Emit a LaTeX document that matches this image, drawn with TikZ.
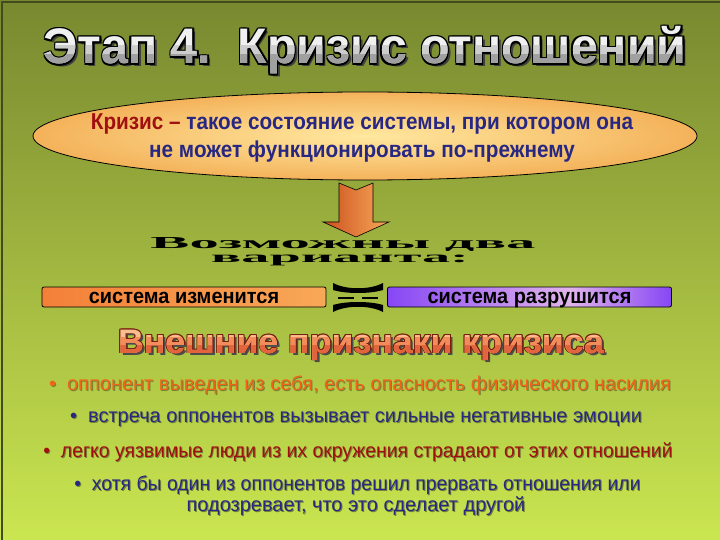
\documentclass[tikz,border=0pt]{standalone}
\usepackage{fontspec}
\setmainfont{Liberation Sans}
\newfontfamily\wordart{Liberation Serif}
\usetikzlibrary{shapes.geometric,shadings}
\definecolor{bgtop}{RGB}{120,136,48}
\definecolor{bgbot}{RGB}{202,230,80}
\definecolor{dkred}{RGB}{160,16,16}
\definecolor{dkblue}{RGB}{40,40,130}
\definecolor{orangetxt}{RGB}{240,100,24}
\definecolor{shadowc}{RGB}{115,130,55}
\definecolor{titlefillA}{RGB}{240,240,240}
\definecolor{titlefillB}{RGB}{205,205,205}
\definecolor{titlefillC}{RGB}{160,160,160}
\definecolor{headfillA}{RGB}{250,190,140}
\definecolor{headfillB}{RGB}{242,140,90}
\definecolor{headfillC}{RGB}{226,100,60}
\definecolor{headline}{RGB}{120,30,15}
\definecolor{ellin}{RGB}{255,232,160}
\definecolor{ellout}{RGB}{244,178,90}
\definecolor{arrL}{RGB}{205,80,30}
\definecolor{arrR}{RGB}{246,170,90}
\definecolor{orL}{RGB}{244,128,56}
\definecolor{orR}{RGB}{248,168,88}
\definecolor{purA}{RGB}{135,70,245}
\definecolor{purB}{RGB}{225,180,235}
\pgfdeclarehorizontalshading{purpshade}{100bp}{color(0bp)=(purA); color(25bp)=(purA); color(57bp)=(purB); color(75bp)=(purA); color(100bp)=(purA)}
% outlined text: #1 offset, #2 shadow colour, #3 shadow offset, #4 outline colour, #5 fill colour, #6 text
\newcommand\oltext[6]{\leavevmode
\rlap{\kern#3\raisebox{-#3}{\color{#2}#6}}%
\rlap{\kern#1\color{#4}#6}%
\rlap{\kern-#1\color{#4}#6}%
\rlap{\raisebox{#1}{\color{#4}#6}}%
\rlap{\raisebox{-#1}{\color{#4}#6}}%
\rlap{\kern#1\raisebox{#1}{\color{#4}#6}}%
\rlap{\kern-#1\raisebox{#1}{\color{#4}#6}}%
\rlap{\kern#1\raisebox{-#1}{\color{#4}#6}}%
\rlap{\kern-#1\raisebox{-#1}{\color{#4}#6}}%
{\color{#5}#6}}
% shadowed text: #1 colour, #2 text
\newcommand\shtext[2]{\leavevmode\rlap{\kern1pt\raisebox{-1pt}{\color{shadowc}#2}}{\color{#1}#2}}
\newcommand\titlestr{Этап 4.\ \ Кризис отношений}
\newcommand\headstr{Внешние признаки кризиса}
\begin{document}
\begin{tikzpicture}[x=1pt,y=-1pt,
  bullettext/.style={inner sep=0pt, anchor=center, font=\fontsize{20}{20}\selectfont},
  titlefont/.style={inner sep=0pt, anchor=base, font=\fontsize{50}{50}\selectfont\bfseries},
  headfont/.style={inner sep=0pt, anchor=base, font=\fontsize{34}{34}\selectfont\bfseries},
  choicebox/.style={draw=black, line width=0.8pt, rounded corners=2pt, minimum width=284pt, minimum height=20pt, inner sep=0pt, font=\fontsize{21}{21}\selectfont\bfseries}]
\useasboundingbox (0,0) rectangle (720,540);
\shade[top color=bgtop, bottom color=bgbot] (0,0) rectangle (720,540);
\draw[bgtop!55!black, line width=1.5pt] (2,540) -- (2,2) -- (720,2);

% title with silver gradient letters
\node[titlefont] (title) at (365,64) {\scalebox{0.965}[1]{\oltext{1.4pt}{black!75}{3pt}{black}{titlefillA}{\titlestr}}};
\begin{scope}
\clip (0,46) rectangle (720,55);
\node[titlefont] (titleB) at (365,64) {\scalebox{0.965}[1]{\color{titlefillB}\titlestr}};
\end{scope}
\begin{scope}
\clip (0,55) rectangle (720,90);
\node[titlefont] (titleC) at (365,64) {\scalebox{0.965}[1]{\color{titlefillC}\titlestr}};
\end{scope}

% definition ellipse
\node[ellipse, draw=black, line width=0.8pt, inner color=ellin, outer color=ellout, minimum width=664pt, minimum height=88pt, inner sep=0pt] (def) at (365,136) {};
\node[inner sep=0pt, align=center, font=\fontsize{23}{28}\selectfont\bfseries] (deftext) at (362,138) {\scalebox{0.9}[1]{\color{dkred}Кризис –\ \color{dkblue}такое состояние системы, при котором она}\\ \scalebox{0.9}[1]{\color{dkblue}не может функционировать по-прежнему}};

% arrow
\shade[left color=arrL, right color=arrR, draw=black, line width=0.6pt]
  (339,183) -- (356,190) -- (373,183) -- (373,222) -- (389,222) -- (356,237) -- (323,222) -- (339,222) -- cycle;

% word art
\node[inner sep=0pt, anchor=base] (wa1) at (343,248) {\wordart\bfseries\resizebox{385pt}{11pt}{Возможны два}};
\node[inner sep=0pt, anchor=base] (wa2) at (340,262.5) {\wordart\bfseries\resizebox{258pt}{7.5pt}{варианта:}};

% choices
\node[choicebox, left color=orL, right color=orR] (ch1) at (184,297) {\raisebox{-6pt}[0pt][0pt]{\scalebox{0.95}[1]{система изменится}}};
\node[choicebox, shading=purpshade] (ch2) at (529.5,297) {\raisebox{-6pt}[0pt][0pt]{\scalebox{0.95}[1]{система разрушится}}};

% sign between the choices
\fill[black] (333,283) .. controls (346,290) and (370,290) .. (383,283) -- (383,290) .. controls (370,294) and (346,294) .. (333,290) -- cycle;
\fill[black] (333,312) .. controls (346,305) and (370,305) .. (383,312) -- (383,305) .. controls (370,301) and (346,301) .. (333,305) -- cycle;
\draw[black, line width=2pt] (338,297.5) -- (354,297.5) (362,297.5) -- (378,297.5);

% heading with gradient letters
\node[headfont] (head) at (361,353) {\scalebox{1.05}[1]{\oltext{0.9pt}{black!70}{2.5pt}{headline}{headfillA}{\headstr}}};
\begin{scope}
\clip (0,337) rectangle (720,345);
\node[headfont] (headB) at (361,353) {\scalebox{1.05}[1]{\color{headfillB}\headstr}};
\end{scope}
\begin{scope}
\clip (0,345) rectangle (720,370);
\node[headfont] (headC) at (361,353) {\scalebox{1.05}[1]{\color{headfillC}\headstr}};
\end{scope}

% signs
\node[bullettext] (s1) at (360,386) {\shtext{orangetxt}{•\ \ оппонент выведен из себя, есть опасность физического насилия}};
\node[bullettext] (s2) at (356,420) {\shtext{dkblue}{•\ \ встреча оппонентов вызывает сильные негативные эмоции}};
\node[bullettext] (s3) at (358,453) {\scalebox{0.97}[1]{\shtext{dkred}{•\ \ легко уязвимые люди из их окружения страдают от этих отношений}}};
\node[bullettext] (s4) at (357.5,486) {\scalebox{0.97}[1]{\shtext{dkblue}{•\ \ хотя бы один из оппонентов решил прервать отношения или}}};
\node[bullettext] (s5) at (356,507) {\shtext{dkblue}{подозревает, что это сделает другой}};
\end{tikzpicture}
\end{document}
